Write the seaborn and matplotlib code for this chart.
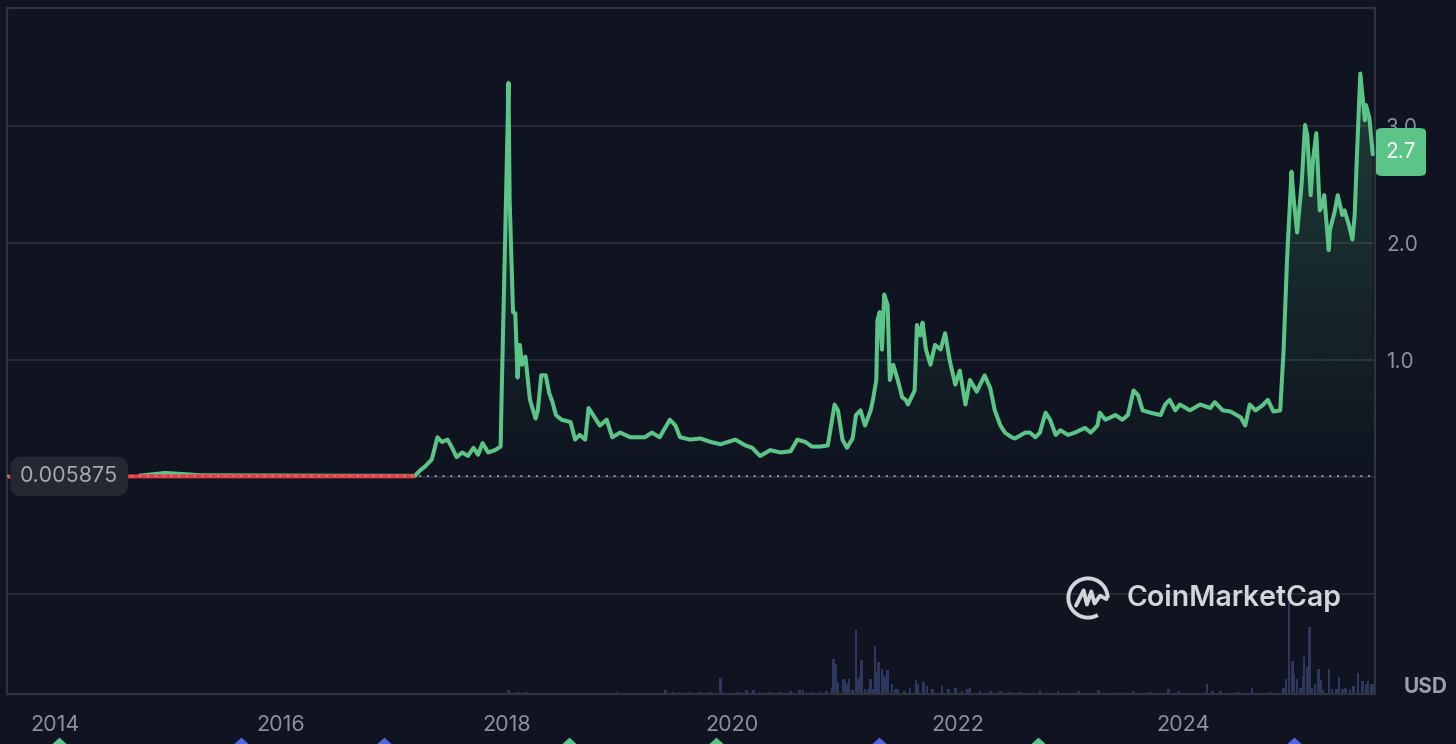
import numpy as np
import pandas as pd
import matplotlib
matplotlib.use("Agg")
import matplotlib.pyplot as plt
from matplotlib.patches import FancyBboxPatch, Arc
from matplotlib.transforms import blended_transform_factory
import seaborn as sns

# ---- data ----
years = [2013.58, 2014.0, 2014.5, 2014.75, 2014.98, 2015.29, 2016.17, 2017.19, 2017.24, 2017.28,
         2017.34, 2017.39, 2017.43, 2017.48, 2017.52, 2017.56, 2017.61, 2017.66, 2017.71, 2017.75,
         2017.79, 2017.84, 2017.90, 2017.95, 2017.96, 2017.99, 2018.02, 2018.03, 2018.06, 2018.08,
         2018.10, 2018.12, 2018.14, 2018.17, 2018.21, 2018.26, 2018.28, 2018.31, 2018.35, 2018.38,
         2018.41, 2018.44, 2018.49, 2018.57, 2018.61, 2018.65, 2018.70, 2018.73, 2018.77, 2018.83,
         2018.89, 2018.94, 2019.01, 2019.10, 2019.23, 2019.29, 2019.36, 2019.45, 2019.50, 2019.54,
         2019.63, 2019.72, 2019.81, 2019.90, 2020.03, 2020.12, 2020.18, 2020.25, 2020.34, 2020.43,
         2020.52, 2020.58, 2020.65, 2020.71, 2020.78, 2020.85, 2020.91, 2020.94, 2020.98, 2021.02,
         2021.07, 2021.10, 2021.14, 2021.18, 2021.23, 2021.25, 2021.28, 2021.29, 2021.31, 2021.33,
         2021.35, 2021.38, 2021.40, 2021.43, 2021.47, 2021.51, 2021.54, 2021.56, 2021.60, 2021.62,
         2021.64, 2021.67, 2021.69, 2021.72, 2021.76, 2021.80, 2021.85, 2021.89, 2021.93, 2021.98,
         2022.02, 2022.07, 2022.11, 2022.17, 2022.24, 2022.29, 2022.33, 2022.38, 2022.42, 2022.48,
         2022.51, 2022.60, 2022.64, 2022.69, 2022.73, 2022.78, 2022.82, 2022.87, 2022.91, 2022.98,
         2023.04, 2023.13, 2023.18, 2023.24, 2023.26, 2023.31, 2023.40, 2023.46, 2023.51, 2023.56,
         2023.60, 2023.64, 2023.71, 2023.80, 2023.84, 2023.88, 2023.93, 2023.97, 2024.06, 2024.15,
         2024.24, 2024.28, 2024.35, 2024.42, 2024.51, 2024.55, 2024.59, 2024.64, 2024.70, 2024.75,
         2024.80, 2024.86, 2024.89, 2024.92, 2024.96, 2024.98, 2025.01, 2025.04, 2025.05, 2025.08,
         2025.10, 2025.13, 2025.15, 2025.18, 2025.21, 2025.23, 2025.25, 2025.29, 2025.30, 2025.34,
         2025.37, 2025.41, 2025.43, 2025.47, 2025.50, 2025.52, 2025.54, 2025.57, 2025.61, 2025.62,
         2025.65, 2025.68]
prices = [0.003, 0.004, 0.004, 0.012, 0.035, 0.015, 0.012, 0.010, 0.06, 0.09,
          0.15, 0.34, 0.30, 0.32, 0.25, 0.17, 0.21, 0.18, 0.25, 0.19,
          0.29, 0.21, 0.23, 0.26, 0.74, 2.03, 3.37, 2.37, 1.41, 1.40,
          0.85, 1.13, 0.96, 1.03, 0.66, 0.50, 0.57, 0.87, 0.87, 0.72,
          0.64, 0.53, 0.49, 0.47, 0.32, 0.36, 0.32, 0.59, 0.53, 0.44,
          0.49, 0.34, 0.38, 0.34, 0.34, 0.38, 0.34, 0.49, 0.44, 0.34,
          0.32, 0.33, 0.30, 0.28, 0.32, 0.27, 0.25, 0.18, 0.23, 0.21,
          0.22, 0.32, 0.30, 0.26, 0.26, 0.27, 0.62, 0.57, 0.32, 0.25,
          0.33, 0.53, 0.57, 0.44, 0.57, 0.66, 0.83, 1.34, 1.41, 1.09,
          1.56, 1.47, 0.83, 0.96, 0.83, 0.68, 0.66, 0.62, 0.70, 0.74,
          1.30, 1.21, 1.32, 1.09, 0.96, 1.13, 1.09, 1.23, 1.00, 0.79,
          0.91, 0.62, 0.83, 0.73, 0.87, 0.76, 0.57, 0.44, 0.38, 0.34,
          0.33, 0.38, 0.38, 0.34, 0.38, 0.55, 0.49, 0.36, 0.40, 0.36,
          0.38, 0.42, 0.38, 0.44, 0.55, 0.49, 0.53, 0.49, 0.53, 0.74,
          0.70, 0.57, 0.55, 0.53, 0.62, 0.66, 0.57, 0.62, 0.57, 0.62,
          0.59, 0.64, 0.57, 0.56, 0.51, 0.44, 0.62, 0.57, 0.61, 0.66,
          0.56, 0.57, 1.09, 1.85, 2.61, 2.37, 2.09, 2.41, 2.51, 3.01,
          2.92, 2.41, 2.71, 2.94, 2.28, 2.32, 2.41, 1.94, 2.11, 2.26,
          2.41, 2.24, 2.28, 2.15, 2.03, 2.24, 2.75, 3.45, 3.05, 3.18,
          3.07, 2.76]

vol_years = [2018.02, 2018.11, 2018.18, 2018.98, 2019.41, 2019.48, 2019.54, 2019.63, 2019.72, 2019.81,
             2019.90, 2020.05, 2020.13, 2020.19, 2020.25, 2020.34, 2020.43, 2020.52, 2020.60, 2020.63,
             2020.72, 2020.78, 2020.84, 2020.89, 2020.90, 2020.92, 2020.94, 2020.99, 2021.00, 2021.02,
             2021.04, 2021.07, 2021.10, 2021.12, 2021.14, 2021.15, 2021.18, 2021.21, 2021.23, 2021.25,
             2021.27, 2021.29, 2021.30, 2021.33, 2021.35, 2021.37, 2021.38, 2021.42, 2021.45, 2021.47,
             2021.53, 2021.58, 2021.63, 2021.65, 2021.70, 2021.73, 2021.78, 2021.86, 2021.92, 2021.98,
             2022.04, 2022.09, 2022.11, 2022.20, 2022.29, 2022.38, 2022.47, 2022.55, 2022.73, 2022.89,
             2023.07, 2023.25, 2023.44, 2023.56, 2023.71, 2023.87, 2023.96, 2024.21, 2024.26, 2024.33,
             2024.48, 2024.61, 2024.77, 2024.89, 2024.91, 2024.94, 2024.97, 2024.98, 2025.01, 2025.04,
             2025.06, 2025.07, 2025.10, 2025.12, 2025.14, 2025.17, 2025.20, 2025.22, 2025.24, 2025.29,
             2025.32, 2025.36, 2025.38, 2025.41, 2025.44, 2025.48, 2025.51, 2025.55, 2025.59, 2025.62,
             2025.64, 2025.67, 2025.69]
vol_values = [4, 2, 2, 2, 4, 2, 2, 2, 2, 2,
              16, 2, 4, 4, 2, 2, 2, 3, 4, 4,
              2, 2, 3, 6, 35, 30, 12, 15, 13, 10,
              15, 4, 64, 15, 18, 34, 5, 5, 15, 5,
              48, 22, 32, 25, 18, 16, 24, 10, 5, 5,
              3, 6, 14, 10, 12, 8, 5, 8, 5, 6,
              3, 5, 6, 3, 3, 3, 2, 2, 4, 3,
              3, 4, 2, 3, 2, 5, 3, 10, 3, 3,
              2, 6, 2, 6, 15, 92, 33, 20, 15, 6,
              18, 37, 27, 67, 6, 10, 25, 14, 4, 25,
              5, 5, 17, 5, 6, 5, 8, 21, 13, 10,
              13, 10, 10]

year_ticks = [2014, 2016, 2018, 2020, 2022, 2024]
price_ticks = [-1, 0, 1, 2, 3]
price_labels = ["", "", "1.0", "2.0", "3.0"]

event_years = [2014.04, 2015.65, 2016.92, 2018.56, 2019.86, 2021.30, 2022.71, 2024.98]
event_kind = ["up", "down", "down", "up", "up", "down", "up", "down"]

baseline = 0.005875
last_price = "2.7"

# ---- style ----
BG = "#0f1420"
GREEN = "#5bc588"
RED = "#ea3943"
BLUE = "#4f66e3"
GRID = "#262a36"
TXT = "#8b909c"

sns.set_theme(style="dark")
plt.rcParams["font.family"] = ["Inter", "DejaVu Sans"]

df = pd.DataFrame({"year": years, "price": prices})
vol = pd.DataFrame({"year": vol_years, "volume": vol_values})

fig = plt.figure(figsize=(14.56, 7.44), dpi=100, facecolor=BG)
pos = [7 / 1456, 1 - 694 / 744, (1375 - 7) / 1456, (694 - 8) / 744]
xlim = (2013.575, 2025.70)

# volume panel, behind the price axes
axv = fig.add_axes(pos, facecolor=BG)
axv.bar(vol["year"], vol["volume"], width=0.022, color="#2e375e", linewidth=0)
axv.set_xlim(*xlim)
axv.set_ylim(0, 686)
axv.set_xticks([])
axv.set_yticks([])
for s in axv.spines.values():
    s.set_visible(False)

ax = fig.add_axes(pos)
ax.set_zorder(2)
ax.patch.set_visible(False)
ax.set_xlim(*xlim)
ax.set_ylim(-1.855, 4.01)

# gradient fill below the price line
poly = ax.fill_between(df["year"], df["price"], baseline, facecolor="none", edgecolor="none")
grad = np.zeros((256, 1, 4))
grad[:, 0, :3] = matplotlib.colors.to_rgb(GREEN)
grad[:, 0, 3] = np.linspace(0, 0.24, 256)
im = ax.imshow(grad, extent=[xlim[0], xlim[1], baseline, 3.5], origin="lower",
               aspect="auto", zorder=1)
im.set_clip_path(poly.get_paths()[0], transform=ax.transData)

green_part = df[df["year"] >= 2014.7]
sns.lineplot(data=green_part, x="year", y="price", ax=ax, color=GREEN, linewidth=2.9,
             estimator=None, sort=False, zorder=3)
ax.lines[-1].set_solid_joinstyle("round")
red_part = df[df["year"] <= 2017.22]
ax.plot(red_part["year"], np.minimum(red_part["price"], baseline), color=RED,
        linewidth=2.9, zorder=4, solid_capstyle="butt")
ax.axhline(baseline, color="#9196a1", linewidth=1.4, linestyle=(0, (1, 3)), zorder=5)

# axes styling
ax.set_xlabel("")
ax.set_ylabel("")
ax.set_xticks(year_ticks)
ax.set_xticklabels([str(y) for y in year_ticks])
ax.set_yticks(price_ticks)
ax.set_yticklabels(price_labels)
ax.yaxis.tick_right()
ax.tick_params(axis="y", length=0, pad=8, labelsize=15, labelcolor=TXT)
ax.tick_params(axis="x", length=0, pad=15, labelsize=15.5, labelcolor=TXT)
ax.grid(axis="y", color=GRID, linewidth=1.5)
ax.grid(axis="x", visible=False)
for s in ax.spines.values():
    s.set_visible(True)
    s.set_color("#2f333f")
    s.set_linewidth(1.6)

# baseline value badge
ax.text(0.0095, baseline, "0.005875", transform=blended_transform_factory(ax.transAxes, ax.transData),
        ha="left", va="center", fontsize=15.5, color="#a4a9b4", zorder=6,
        bbox=dict(boxstyle="round,pad=0.45,rounding_size=0.55", fc="#252833", ec="none"))

# last price badge
fig.patches.append(FancyBboxPatch((1376 / 1456, 1 - 176 / 744), 50 / 1456, 48 / 744,
                                  boxstyle="round,pad=0,rounding_size=0.005",
                                  transform=fig.transFigure, fc=GREEN, ec="none", zorder=10))
fig.text(1401 / 1456, 1 - 152 / 744, last_price, ha="center", va="center", fontsize=15,
         color="white", zorder=11)

fig.text(1426 / 1456, 1 - 687 / 744, "USD", ha="center", va="center", fontsize=15,
         fontweight="bold", color="#9a9fab")

# event markers below the axis (wide flat triangles, cut by the figure edge)
tri = [(-1, -0.45), (0, 0.45), (1, -0.45)]
tr = blended_transform_factory(ax.transData, ax.transAxes)
for y, k in zip(event_years, event_kind):
    ax.scatter([y], [-0.0725], marker=tri, s=484, color=GREEN if k == "up" else BLUE,
               transform=tr, clip_on=False, zorder=6, linewidths=0)

# watermark
fig.text(1127 / 1456, 1 - 598 / 744, "CoinMarketCap", ha="left", va="center", fontsize=20.5,
         fontweight="semibold", color="#d3d5da", zorder=8)
axl = fig.add_axes([1064 / 1456, 1 - 622 / 744, 48 / 1456, 48 / 744])
axl.set_zorder(8)
axl.set_xlim(-1.1, 1.1)
axl.set_ylim(-1.1, 1.1)
axl.axis("off")
axl.add_patch(Arc((0, 0), 1.8, 1.8, theta1=0, theta2=300, color="#d3d5da", lw=2.8))
axl.plot([-0.55, -0.2, -0.05, 0.15, 0.3, 0.55, 0.85],
         [-0.35, 0.35, -0.3, 0.3, -0.25, 0.1, -0.05], color="#d3d5da", lw=2.8,
         solid_joinstyle="round", solid_capstyle="round")

fig.savefig("out.png", dpi=100, facecolor=BG)
